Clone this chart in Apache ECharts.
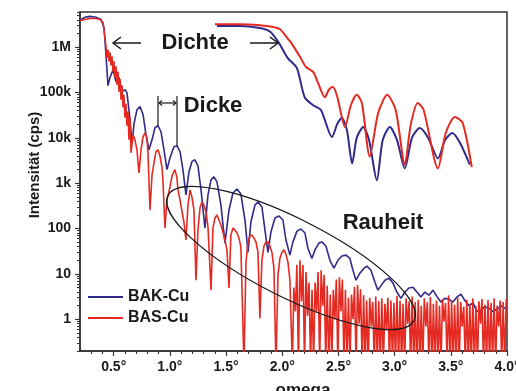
<!DOCTYPE html>
<html>
<head>
<meta charset="utf-8">
<script src="https://cdn.jsdelivr.net/npm/echarts@6/dist/echarts.min.js"></script>
<style>
  html, body { margin: 0; padding: 0; background: #fff; }
  #chart { width: 516px; height: 391px; }
</style>
</head>
<body>
<div id="chart"></div>
<script>
// [omega in degrees, intensity in cps]
const bakCu = [
  [0.200, 3.9e6], [0.244, 4.6e6], [0.289, 4.8e6], [0.342, 4.6e6], [0.387, 4.1e6], [0.414, 2.7e6],
  [0.431, 6.9e5], [0.449, 1.43e5], [0.467, 2.15e5], [0.494, 3.2e5], [0.520, 1.75e5], [0.547, 2.15e5],
  [0.574, 1.05e5], [0.600, 1.16e5], [0.618, 1.0e5], [0.645, 2.5e4], [0.663, 7.1e3], [0.680, 2.0e4],
  [0.707, 4.2e4], [0.734, 4.9e4], [0.761, 3.3e4], [0.787, 1.18e4], [0.814, 5.5e3], [0.841, 9.1e3],
  [0.867, 1.68e4], [0.894, 1.86e4], [0.921, 1.37e4], [0.947, 5.5e3], [0.974, 2.0e3], [1.001, 3.65e3],
  [1.036, 6.4e3], [1.063, 6.7e3], [1.090, 5.0e3], [1.116, 2.0e3], [1.143, 555], [1.170, 1.8e3],
  [1.196, 3.0e3], [1.223, 3.3e3], [1.250, 2.4e3], [1.277, 715], [1.312, 103], [1.339, 555],
  [1.366, 1.19e3], [1.392, 1.39e3], [1.419, 1.07e3], [1.454, 333], [1.490, 48], [1.526, 258],
  [1.561, 610], [1.597, 750], [1.632, 580], [1.668, 155], [1.695, 30], [1.721, 140],
  [1.757, 333], [1.784, 390], [1.819, 300], [1.846, 93], [1.873, 30], [1.899, 84],
  [1.935, 172], [1.971, 190], [2.006, 155], [2.033, 56], [2.068, 26], [2.095, 51],
  [2.131, 88], [2.166, 98], [2.202, 80], [2.228, 37], [2.264, 22], [2.291, 34],
  [2.326, 48], [2.353, 51], [2.389, 41], [2.424, 20], [2.460, 13.4], [2.495, 20],
  [2.531, 25], [2.567, 26], [2.602, 22], [2.629, 12.1], [2.656, 7.3], [2.691, 10.4],
  [2.727, 13.4], [2.753, 14.9], [2.789, 12.1], [2.825, 6.6], [2.851, 4.4], [2.887, 5.9],
  [2.914, 7.3], [2.949, 8.1], [2.985, 6.3], [3.020, 4.0], [3.056, 2.9], [3.092, 4.0],
  [3.127, 4.9], [3.163, 5.1], [3.198, 4.0], [3.234, 3.1], [3.269, 4.0], [3.305, 3.4],
  [3.341, 4.4], [3.376, 3.2], [3.412, 2.4], [3.447, 2.9], [3.483, 2.8], [3.519, 2.4],
  [3.554, 3.1], [3.590, 3.6], [3.625, 2.6], [3.661, 2.0], [3.697, 2.3], [3.732, 1.5],
  [3.768, 1.58], [3.803, 1.9], [3.839, 1.75], [3.874, 1.5], [3.910, 1.66], [3.946, 2.0],
  [3.981, 1.75], [4.000, 1.9]
];

// zero counts are stored as 0.1 (below the axis)
const basCu = [
  [0.200, 3.9e6], [0.244, 4.1e6], [0.289, 4.3e6], [0.342, 4.3e6], [0.378, 4.1e6], [0.405, 3.5e6],
  [0.422, 1.65e6], [0.431, 1.04e6], [0.440, 5.9e5], [0.449, 8.9e5], [0.458, 4.9e5], [0.467, 7.7e5],
  [0.476, 4.0e5], [0.485, 6.3e5], [0.494, 2.9e5], [0.502, 4.9e5], [0.511, 2.15e5], [0.520, 3.8e5],
  [0.529, 1.5e5], [0.538, 2.9e5], [0.547, 1.05e5], [0.556, 2.0e5], [0.565, 7.0e4], [0.574, 1.43e5],
  [0.583, 4.7e4], [0.591, 9.0e4], [0.600, 2.8e4], [0.609, 5.7e4], [0.618, 1.86e4], [0.627, 3.8e4],
  [0.636, 9.1e3], [0.645, 2.8e4], [0.654, 4.7e3], [0.672, 1.18e4], [0.689, 9.1e3], [0.707, 5.5e3],
  [0.725, 1.7e3], [0.743, 5.5e3], [0.761, 1.06e4], [0.778, 1.3e4], [0.796, 1.0e4], [0.805, 4.7e3],
  [0.823, 258], [0.841, 1.53e3], [0.858, 2.8e3], [0.876, 5.0e3], [0.894, 5.5e3], [0.912, 4.0e3],
  [0.930, 2.2e3], [0.938, 1.19e3], [0.956, 103], [0.974, 430], [1.001, 830], [1.019, 1.46e3],
  [1.045, 2.0e3], [1.063, 1.32e3], [1.072, 715], [1.090, 430], [1.108, 233], [1.125, 140],
  [1.143, 56], [1.161, 333], [1.179, 715], [1.196, 500], [1.214, 258], [1.232, 7.3],
  [1.250, 93], [1.268, 286], [1.285, 390], [1.303, 333], [1.321, 233], [1.339, 108],
  [1.366, 4.4], [1.383, 103], [1.401, 172], [1.419, 200], [1.437, 155], [1.454, 120],
  [1.472, 84], [1.490, 56], [1.508, 34], [1.526, 4.9], [1.543, 72], [1.561, 103],
  [1.579, 93], [1.597, 80], [1.615, 62], [1.632, 39], [1.659, 0.1], [1.677, 18],
  [1.695, 51], [1.712, 69], [1.730, 72], [1.748, 62], [1.766, 51], [1.784, 30],
  [1.801, 1.05], [1.819, 20], [1.837, 41], [1.855, 51], [1.873, 51], [1.890, 41],
  [1.908, 30], [1.926, 13.4], [1.944, 0.1], [1.962, 9.4], [1.979, 22], [1.997, 30],
  [2.015, 34], [2.033, 27], [2.051, 18], [2.068, 7.3],
  [2.090, 0.1], [2.103, 5], [2.117, 1.5], [2.130, 16], [2.144, 0.1], [2.157, 20],
  [2.171, 2.5], [2.184, 16], [2.198, 0.1], [2.211, 11], [2.225, 1.2], [2.238, 6.5],
  [2.252, 0.1], [2.265, 4.5], [2.279, 0.1], [2.292, 6.5], [2.306, 1.5], [2.319, 11],
  [2.333, 0.1], [2.346, 12], [2.360, 2.0], [2.373, 9.5], [2.387, 0.1], [2.400, 5.5],
  [2.414, 0.1], [2.427, 3.5], [2.441, 0.1], [2.454, 4.5], [2.468, 1.0], [2.481, 7.5],
  [2.495, 0.1], [2.508, 8.5], [2.522, 1.5], [2.535, 7.5], [2.549, 0.1], [2.562, 4.5],
  [2.576, 0.1], [2.589, 3.0], [2.603, 0.1], [2.616, 3.5], [2.630, 1.0], [2.643, 5.2],
  [2.657, 0.1], [2.670, 5.7], [2.684, 0.8], [2.697, 4.6], [2.711, 0.1], [2.724, 3.4],
  [2.738, 0.1], [2.751, 2.6], [2.765, 0.1], [2.778, 3.0], [2.792, 0.7], [2.805, 2.4],
  [2.819, 0.1], [2.832, 3.2], [2.846, 0.1], [2.859, 2.5], [2.873, 0.1], [2.886, 2.9],
  [2.900, 0.1], [2.913, 2.2], [2.927, 0.6], [2.940, 3.0], [2.954, 0.1], [2.967, 2.6],
  [2.981, 0.1], [2.994, 2.3], [3.008, 0.1], [3.021, 3.3], [3.035, 0.1], [3.048, 2.6],
  [3.062, 0.1], [3.075, 2.2], [3.089, 0.1], [3.102, 2.9], [3.116, 0.8], [3.129, 2.5],
  [3.143, 0.1], [3.156, 3.2], [3.170, 0.1], [3.183, 2.4], [3.197, 0.1], [3.210, 2.7],
  [3.224, 0.1], [3.237, 2.0], [3.251, 0.1], [3.264, 2.9], [3.278, 0.7], [3.291, 2.4],
  [3.305, 0.1], [3.318, 3.1], [3.332, 0.1], [3.345, 2.2], [3.359, 0.1], [3.372, 2.6],
  [3.386, 0.1], [3.399, 2.0], [3.413, 0.1], [3.426, 2.8], [3.440, 0.9], [3.453, 2.3],
  [3.467, 0.1], [3.480, 3.4], [3.494, 0.1], [3.507, 2.5], [3.521, 0.1], [3.534, 2.1],
  [3.548, 0.1], [3.561, 3.0], [3.575, 0.1], [3.588, 2.4], [3.602, 0.7], [3.615, 1.9],
  [3.629, 0.1], [3.642, 2.7], [3.656, 0.1], [3.669, 2.2], [3.683, 0.1], [3.696, 2.9],
  [3.710, 0.1], [3.723, 2.0], [3.737, 0.1], [3.750, 2.5], [3.764, 0.8], [3.777, 2.8],
  [3.791, 0.1], [3.804, 2.1], [3.818, 0.1], [3.831, 2.7], [3.845, 0.1], [3.858, 2.3],
  [3.872, 0.1], [3.885, 2.9], [3.899, 0.1], [3.912, 2.0], [3.926, 0.7], [3.939, 2.6],
  [3.953, 0.1], [3.966, 2.4], [3.980, 0.1], [3.993, 2.8]
];

// inset: critical-angle region, own (hidden) axes
const bakCuInset = [
  [0.303, 4.75e6], [0.338, 4.75e6], [0.369, 4.4e6], [0.385, 3.8e6], [0.398, 2.5e6], [0.412, 1.37e6],
  [0.426, 9.3e5], [0.438, 3.0e5], [0.451, 2.2e5], [0.463, 1.83e5], [0.480, 6.4e4], [0.488, 1.06e5],
  [0.495, 1.34e5], [0.503, 8.4e4], [0.511, 2.3e4], [0.518, 6.2e4], [0.528, 9.5e4], [0.537, 5.7e4],
  [0.549, 1.2e4], [0.558, 5.7e4], [0.569, 9.5e4], [0.580, 5.7e4], [0.592, 1.9e4], [0.603, 6.2e4],
  [0.615, 9.1e4], [0.628, 6.2e4], [0.643, 2.8e4], [0.654, 5.7e4], [0.665, 7.5e4], [0.677, 5.1e4],
  [0.692, 2.2e4]
];
const basCuInset = [
  [0.300, 5.1e6], [0.338, 5.1e6], [0.369, 4.9e6], [0.388, 4.6e6], [0.400, 4.2e6], [0.409, 3.2e6],
  [0.417, 2.5e6], [0.431, 1.43e6], [0.440, 9.7e5], [0.451, 8.0e5], [0.458, 5.4e5], [0.469, 3.0e5],
  [0.475, 4.0e5], [0.481, 4.5e5], [0.488, 3.1e5], [0.500, 9.5e4], [0.509, 2.2e5], [0.518, 3.3e5],
  [0.526, 2.4e5], [0.538, 3.0e4], [0.551, 1.63e5], [0.565, 3.3e5], [0.578, 1.83e5], [0.592, 2.2e4],
  [0.601, 1.02e5], [0.612, 2.4e5], [0.621, 1.83e5], [0.643, 1.9e4], [0.655, 7.5e4], [0.669, 1.4e5],
  [0.681, 1.11e5], [0.695, 2.0e4]
];

const xTickValues = [0.5, 1.0, 1.5, 2.0, 2.5, 3.0, 3.5, 4.0];
const xMinorTicks = [0.3, 0.4, 0.6, 0.7, 0.8, 0.9, 1.1, 1.2, 1.3, 1.4, 1.6, 1.7, 1.8, 1.9,
  2.1, 2.2, 2.3, 2.4, 2.6, 2.7, 2.8, 2.9, 3.1, 3.2, 3.3, 3.4, 3.6, 3.7, 3.8, 3.9];
const yTickValues = [1, 10, 100, 1e3, 1e4, 1e5, 1e6];
const yTickLabels = ['1', '10', '100', '1k', '10k', '100k', '1M'];

const FONT = '"Liberation Sans", Arial, sans-serif';
const BLUE = '#302b8a';
const RED = '#e52a22';
const INK = '#1a1a1a';
const AXIS = '#333';

// log-style minor ticks 2..9 in every decade
const yMinorTicks = [];
[0.1, 1, 10, 100, 1e3, 1e4, 1e5, 1e6].forEach((decade) => {
  for (let m = 2; m <= 9; m++) yMinorTicks.push(m * decade);
});

const toLog = (points) => points.map(([x, y]) => [x, Math.log10(y)]);
const Y_MIN = Math.log10(0.2);
const Y_MAX = Math.log10(6e6);

const axisText = { color: INK, fontFamily: FONT, fontWeight: 'bold', fontSize: 14 };

function yLabel(value) {
  const i = yTickValues.findIndex((t) => Math.abs(Math.log10(t) - value) < 1e-6);
  return i < 0 ? '' : yTickLabels[i];
}

function line(points, width) {
  return { type: 'polyline', z: 10, shape: { points }, style: { stroke: INK, lineWidth: width || 1.5, fill: null } };
}

function label(text, x, y, size, rotation) {
  return {
    type: 'text', z: 10, x, y, rotation: rotation || 0,
    style: {
      text, fill: INK, font: `bold ${size}px ${FONT}`,
      align: 'center', verticalAlign: 'middle'
    }
  };
}

const chart = echarts.init(document.getElementById('chart'));

chart.setOption({
  animation: false,
  grid: [
    { left: 80, right: 9, top: 12, bottom: 40, show: true, borderColor: AXIS, borderWidth: 1.5, outerBoundsMode: 'none' },
    { left: 215, top: 20, width: 260, height: 165, outerBoundsMode: 'none' }
  ],
  legend: {
    orient: 'vertical',
    left: 88,
    top: 289,
    padding: 0,
    itemWidth: 35,
    itemHeight: 2,
    itemGap: 5,
    icon: 'rect',
    selectedMode: false,
    data: ['BAK-Cu', 'BAS-Cu'],
    textStyle: { color: INK, fontFamily: FONT, fontWeight: 'bold', fontSize: 16 }
  },
  xAxis: [
    {
      type: 'value', gridIndex: 0, min: 0.2, max: 4.0,
      axisLine: { show: true, onZero: false, lineStyle: { color: AXIS, width: 1.5 } },
      axisTick: { show: true, customValues: xTickValues, length: 5, lineStyle: { color: AXIS, width: 1.2 } },
      axisLabel: { customValues: xTickValues, formatter: (v) => v.toFixed(1) + '°', margin: 9, ...axisText },
      splitLine: { show: false }
    },
    {
      type: 'value', gridIndex: 0, position: 'bottom', min: 0.2, max: 4.0,
      axisLine: { show: false, onZero: false },
      axisTick: { show: true, customValues: xMinorTicks, length: 3, lineStyle: { color: AXIS, width: 1.2 } },
      axisLabel: { show: false },
      splitLine: { show: false }
    },
    { type: 'value', gridIndex: 1, min: 0.3, max: 0.7, show: false }
  ],
  yAxis: [
    {
      type: 'value', gridIndex: 0, min: Y_MIN, max: Y_MAX,
      axisLine: { show: true, onZero: false, lineStyle: { color: AXIS, width: 1.5 } },
      axisTick: { show: true, customValues: yTickValues.map(Math.log10), length: 5, lineStyle: { color: AXIS, width: 1.2 } },
      axisLabel: { customValues: yTickValues.map(Math.log10), formatter: yLabel, margin: 9, ...axisText },
      splitLine: { show: false }
    },
    {
      type: 'value', gridIndex: 0, position: 'left', min: Y_MIN, max: Y_MAX,
      axisLine: { show: false, onZero: false },
      axisTick: { show: true, customValues: yMinorTicks.map(Math.log10), length: 3, lineStyle: { color: AXIS, width: 1 } },
      axisLabel: { show: false },
      splitLine: { show: false }
    },
    { type: 'value', gridIndex: 1, min: 4, max: Math.log10(6e6), show: false }
  ],
  series: [
    {
      name: 'BAK-Cu', type: 'line', xAxisIndex: 0, yAxisIndex: 0,
      data: toLog(bakCu), symbol: 'none', color: BLUE,
      lineStyle: { color: BLUE, width: 1.6 }, z: 2
    },
    {
      name: 'BAS-Cu', type: 'line', xAxisIndex: 0, yAxisIndex: 0,
      data: toLog(basCu), symbol: 'none', color: RED,
      lineStyle: { color: RED, width: 1.6 }, z: 3
    },
    {
      name: 'BAK-Cu', type: 'line', xAxisIndex: 2, yAxisIndex: 2,
      data: toLog(bakCuInset), symbol: 'none', color: BLUE, smooth: 0.25,
      lineStyle: { color: BLUE, width: 2 }, z: 2
    },
    {
      name: 'BAS-Cu', type: 'line', xAxisIndex: 2, yAxisIndex: 2,
      data: toLog(basCuInset), symbol: 'none', color: RED, smooth: 0.25,
      lineStyle: { color: RED, width: 2 }, z: 3
    }
  ],
  graphic: [
    label('Intensität (cps)', 35, 165, 15, Math.PI / 2),
    label('omega', 303, 390, 17),
    label('Dichte', 195, 43, 22),
    label('Dicke', 213, 106, 22),
    label('Rauheit', 383, 223, 22),
    // Dichte arrows
    line([[113, 43], [141, 43]]),
    line([[121, 37], [113, 43], [121, 49]]),
    line([[250, 43], [278, 43]]),
    line([[270, 37], [278, 43], [270, 49]]),
    // Dicke fringe spacing
    line([[158, 96], [158, 126]], 1.2),
    line([[177, 96], [177, 146]], 1.2),
    line([[159, 103], [176, 103]], 1.2),
    line([[162, 100.5], [159, 103], [162, 105.5]], 1.2),
    line([[173, 100.5], [176, 103], [173, 105.5]], 1.2),
    // Rauheit ellipse
    {
      type: 'ellipse', z: 10, x: 291, y: 258, rotation: -0.47,
      shape: { cx: 0, cy: 0, rx: 138, ry: 39 },
      style: { fill: null, stroke: INK, lineWidth: 1.3 }
    }
  ]
});
</script>
</body>
</html>
